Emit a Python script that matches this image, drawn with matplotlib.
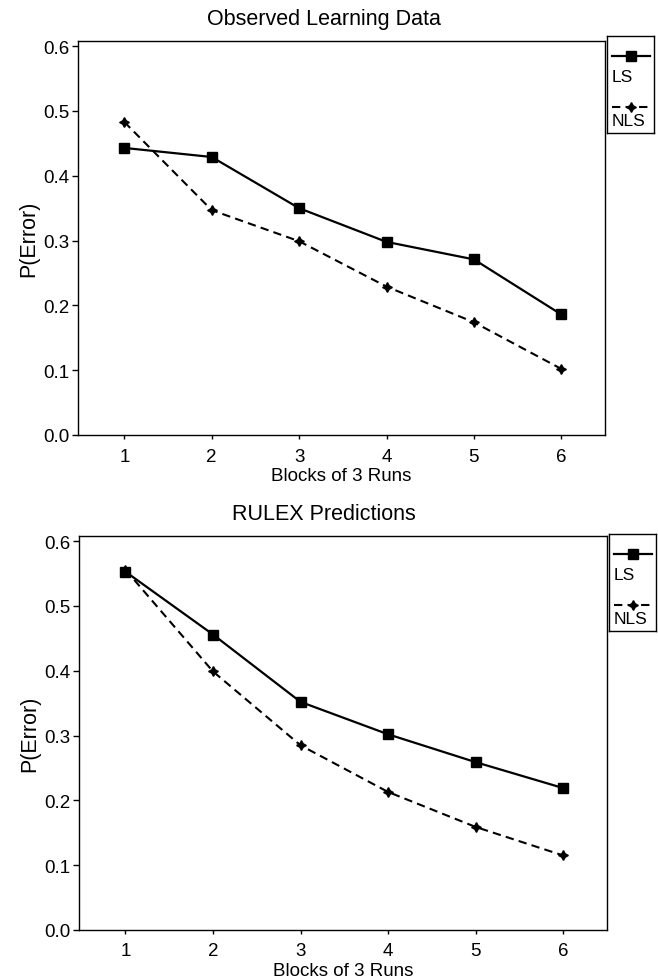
import matplotlib
matplotlib.use("Agg")
import matplotlib.pyplot as plt
from matplotlib.lines import Line2D

plt.rcParams['font.family'] = ['Liberation Sans', 'DejaVu Sans']

blocks = [1, 2, 3, 4, 5, 6]
yticks = [0.0, 0.1, 0.2, 0.3, 0.4, 0.5, 0.6]

# observed learning data
obs_ls = [0.443, 0.429, 0.350, 0.298, 0.271, 0.186]
obs_nls = [0.483, 0.347, 0.299, 0.229, 0.174, 0.102]

# RULEX predictions
pred_ls = [0.553, 0.456, 0.352, 0.302, 0.259, 0.219]
pred_nls = [0.556, 0.399, 0.285, 0.213, 0.159, 0.115]

W, H = 658, 979
fig = plt.figure(figsize=(W / 100, H / 100), dpi=100)

ls_style = dict(color='black', lw=1.6, ls='-', marker='s', ms=6.5)
nls_style = dict(color='black', lw=1.5, ls=(0, (4, 2.5)), marker=(4, 1, 0), ms=7)


def px_box(left, top, right, bottom):
    return [left / W, 1 - bottom / H, (right - left) / W, (bottom - top) / H]


def make_panel(box, title, title_y, ls_vals, nls_vals, leg_box):
    ax = fig.add_axes(px_box(*box))
    ax.plot(blocks, ls_vals, **ls_style)
    ax.plot(blocks, nls_vals, **nls_style)
    ax.set_xlim(0.47, 6.5)
    ax.set_ylim(0, 0.608)
    ax.set_xticks(blocks)
    ax.set_yticks(yticks)
    ax.set_yticklabels([f'{v:.1f}' for v in yticks])
    ax.tick_params(axis='x', labelsize=13.5, length=3, pad=6, width=1)
    ax.tick_params(axis='y', labelsize=13.5, length=4, pad=2, width=1)
    for s in ax.spines.values():
        s.set_linewidth(1.0)
    ax.set_xlabel('Blocks of 3 Runs', fontsize=13.5, labelpad=2)
    ax.set_ylabel('P(Error)', fontsize=15.5, labelpad=3)
    fig.text(324 / W, 1 - title_y / H, title, fontsize=15.5, ha='center', va='center')

    # legend box: handle above its label
    lax = fig.add_axes(px_box(*leg_box))
    lax.set_xlim(0, 1)
    lax.set_ylim(1, 0)
    lax.set_xticks([])
    lax.set_yticks([])
    for s in lax.spines.values():
        s.set_linewidth(1.0)
    h = leg_box[3] - leg_box[1]
    lax.add_line(Line2D([0.1, 0.5, 0.92], [20 / h] * 3, markevery=[1], **ls_style))
    lax.text(0.1, 41 / h, 'LS', fontsize=12.5, va='center', ha='left')
    lax.add_line(Line2D([0.1, 0.5, 0.92], [71 / h] * 3, markevery=[1], **nls_style))
    lax.text(0.1, 85 / h, 'NLS', fontsize=12.5, va='center', ha='left')
    return ax


make_panel((78, 42, 605, 436), 'Observed Learning Data', 20,
           obs_ls, obs_nls, (607, 37, 654, 134))
make_panel((79, 537, 607, 931), 'RULEX Predictions', 515,
           pred_ls, pred_nls, (609, 535, 656, 632))

fig.savefig('out.png', dpi=100)
